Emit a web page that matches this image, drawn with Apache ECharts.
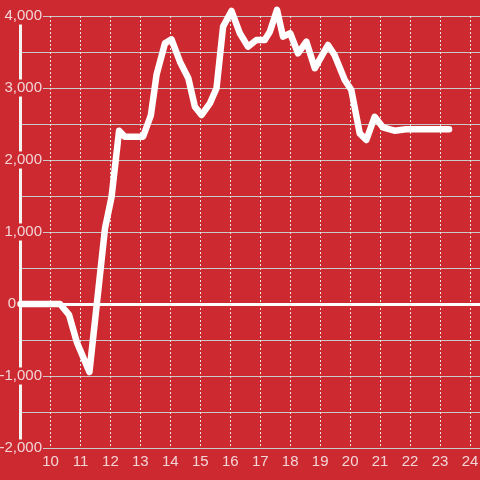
<!DOCTYPE html>
<html>
<head>
<meta charset="utf-8">
<script src="https://cdn.jsdelivr.net/npm/echarts@6/dist/echarts.min.js"></script>
<style>
  html, body { margin: 0; padding: 0; background: #cc2a30; }
  #chart { width: 480px; height: 480px; }
</style>
</head>
<body>
<div id="chart"></div>
<script>
  // hours of the day (x) and running value (y)
  var hours = [9, 10.32, 10.62, 10.88, 11.3, 11.82, 12.04, 12.29, 12.48, 13.09, 13.35, 13.54, 13.82, 14.04,
    14.32, 14.6, 14.82, 15.04, 15.32, 15.54, 15.76, 16.04, 16.32, 16.59, 16.87, 17.15, 17.32, 17.56,
    17.76, 18.0, 18.26, 18.54, 18.82, 19.04, 19.26, 19.48, 19.82, 20.04, 20.32, 20.54, 20.82, 21.09,
    21.48, 21.87, 23.3];
  var values = [0, 0, -150, -530, -945, 1050, 1490, 2407, 2324, 2324, 2620, 3185, 3620, 3676,
    3365, 3135, 2740, 2625, 2787, 2996, 3852, 4070, 3760, 3574, 3667, 3667, 3782, 4085,
    3713, 3760, 3482, 3643, 3274, 3435, 3597, 3458, 3111, 2972, 2370, 2278, 2601, 2454,
    2407, 2426, 2426];
  var xTicks = [10, 11, 12, 13, 14, 15, 16, 17, 18, 19, 20, 21, 22, 23, 24];
  var yTicks = [-2000, -1000, 0, 1000, 2000, 3000, 4000];

  var bg = '#cc2a30', ink = '#f3d5d6', rule = '#c9c9c9';

  function fmt(v) {
    var s = Math.abs(v).toString().replace(/\B(?=(\d{3})+(?!\d))/g, ',');
    return (v < 0 ? '-' : '') + s;
  }

  var chart = echarts.init(document.getElementById('chart'), null, { renderer: 'canvas' });
  chart.setOption({
    backgroundColor: bg,
    animation: false,
    grid: { left: 20.5, right: 0, top: 16, bottom: 32, containLabel: false, outerBoundsMode: 'none' },
    xAxis: {
      type: 'value', min: 9, max: 24.333, interval: 1,
      axisLine: { show: false },
      axisTick: { show: false },
      axisLabel: {
        color: ink, fontSize: 15, fontFamily: 'Liberation Sans', margin: 6,
        showMinLabel: false, showMaxLabel: false,
        formatter: function(v) { return xTicks.indexOf(v) >= 0 ? String(v) : ''; }
      },
      splitLine: { show: true, lineStyle: { color: '#e6e6e6', width: 1, type: [2, 2] } }
    },
    yAxis: {
      type: 'value', min: -2000, max: 4000, interval: 1000,
      axisLine: { show: true, lineStyle: { color: '#f4f4f4', width: 3 } },
      axisTick: { show: false },
      axisLabel: {
        margin: -22.5, align: 'right',
        formatter: function(v) {
          if (yTicks.indexOf(v) < 0) return '';
          return v === 0 ? '{z|0}' : '{a|' + fmt(v) + '}';
        },
        rich: {
          a: { color: ink, fontSize: 15, fontFamily: 'Liberation Sans', backgroundColor: bg, padding: [1, 1, 1, 3], lineHeight: 15 },
          z: { color: ink, fontSize: 15, fontFamily: 'Liberation Sans', padding: [1, 27, 1, 0], lineHeight: 15 }
        }
      },
      splitLine: { show: true, lineStyle: { color: rule, width: 1 } },
      minorTick: { show: false, splitNumber: 2 },
      minorSplitLine: { show: true, lineStyle: { color: rule, width: 1 } }
    },
    series: [{
      type: 'line',
      clip: false,
      data: hours.map(function(h, i) { return [h, values[i]]; }),
      symbol: 'none',
      lineStyle: { color: '#ffffff', width: 6.5, cap: 'round', join: 'round' },
      markLine: {
        silent: true, symbol: 'none', label: { show: false },
        lineStyle: { color: '#ffffff', width: 3, type: 'solid' },
        data: [{ yAxis: 0 }]
      }
    }]
  });
</script>
</body>
</html>
